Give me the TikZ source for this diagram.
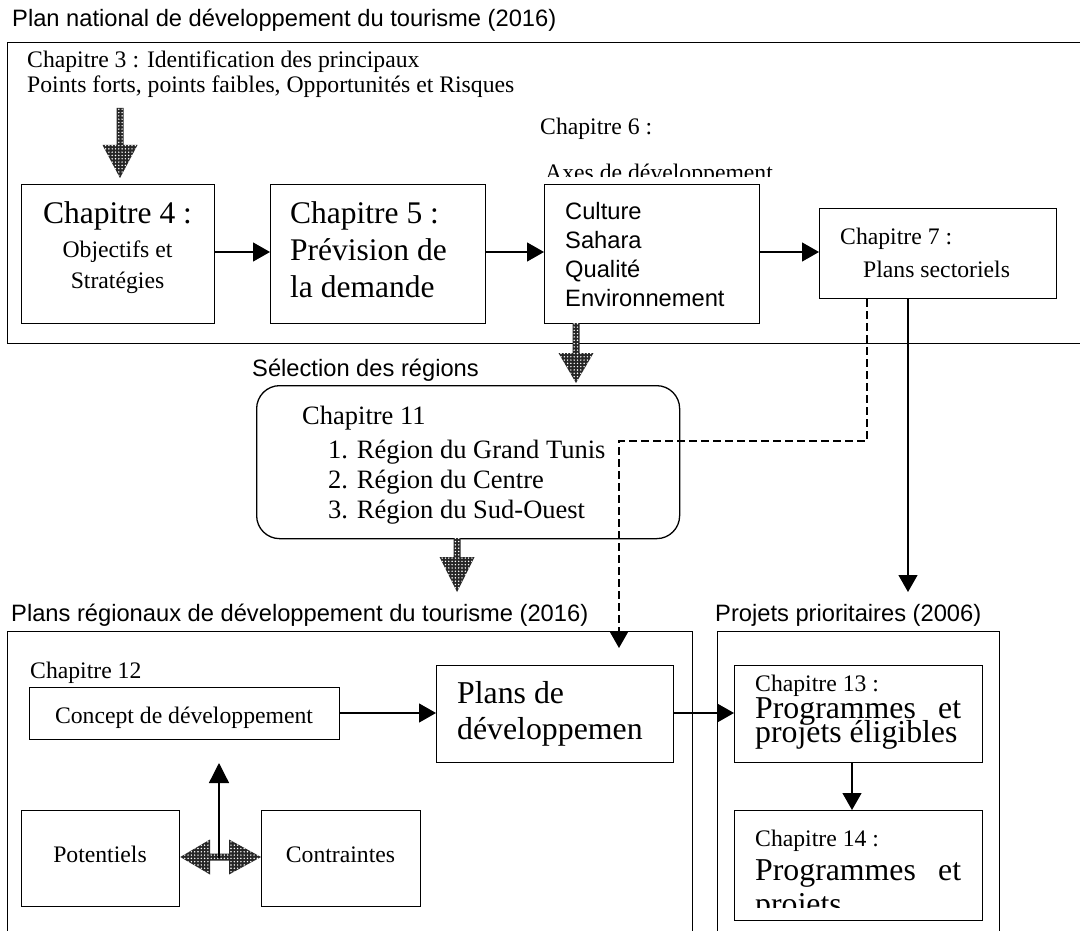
\documentclass[tikz,border=0pt]{standalone}
\usepackage{fontspec}
\setmainfont{Liberation Serif}
\newfontfamily\arialf{Liberation Sans}
\usetikzlibrary{arrows.meta,patterns.meta}
\newcommand\fsS{\fontsize{23.7pt}{28pt}\selectfont}
\newcommand\fsL{\fontsize{31.8pt}{36pt}\selectfont}
\newcommand\fsM{\fontsize{26.5pt}{31pt}\selectfont}
\newcommand\fsH{\arialf\fontsize{23.7pt}{28pt}\selectfont}
\newcommand\hatchdown[4]{\path[hatch] ({#1-3.5},#2) -- ({#1+3.5},#2) -- ({#1+3.5},#3) -- ({#1+17.5},#3) -- (#1,#4) -- ({#1-17.5},#3) -- ({#1-3.5},#3) -- cycle;}
\begin{document}
\begin{tikzpicture}[x=1pt,y=-1pt,
  box/.style={draw,line width=1.3pt,inner sep=0pt,anchor=north west},
  txt/.style={anchor=base west,inner sep=0pt,font=\fsS},
  ctxt/.style={anchor=base,inner sep=0pt,font=\fsS},
  arr/.style={line width=1.3pt,-{Triangle[length=17pt,width=19pt]}},
  dashline/.style={line width=1.3pt,dash pattern=on 8pt off 4pt},
  hatch/.style={fill=black!85,postaction={pattern={Dots[distance=3.3pt,radius=0.8pt]},pattern color=white}}
]
\useasboundingbox (0,0) rectangle (1080,931);
\clip (0,0) rectangle (1080,931);
\fill[white] (0,0) rectangle (1080,931);

% ---------- national plan ----------
\node[txt,font=\fsH] (t1) at (12,27) {Plan national de développement du tourisme (2016)};
\node[box,minimum width=1110pt,minimum height=301pt] (nat) at (7,42) {};
\node[txt] (c3a) at (27,68) {Chapitre 3 : Identification des principaux};
\node[txt] (c3b) at (27,93) {Points forts, points faibles, Opportunités et Risques};
\hatchdown{120}{108}{145}{178}

\node[box,minimum width=193pt,minimum height=139pt] (ch4) at (21,184) {};
\node[ctxt,font=\fontsize{31.5pt}{36pt}\selectfont] (c4a) at (117.5,223) {Chapitre 4 :};
\node[ctxt] (c4b) at (117.5,258) {Objectifs et};
\node[ctxt] (c4c) at (117.5,288) {Stratégies};

\node[box,minimum width=215pt,minimum height=139pt] (ch5) at (270,184) {};
\node[txt,font=\fontsize{31.5pt}{36pt}\selectfont] (c5a) at (290,223) {Chapitre 5 :};
\node[txt,font=\fontsize{31.5pt}{36pt}\selectfont] (c5b) at (290,261) {Prévision de};
\node[txt,font=\fontsize{31.5pt}{36pt}\selectfont] (c5c) at (290,298) {la demande};

\node[txt] (c6a) at (540,135) {Chapitre 6 :};
\begin{scope}
\clip (530,150) rectangle (800,177);
\node[txt] (c6b) at (545,181) {Axes de développement};
\end{scope}

\node[box,minimum width=215pt,minimum height=139pt] (cult) at (544,184) {};
\node[txt,font=\fsH] (k1) at (565,219) {Culture};
\node[txt,font=\fsH] (k2) at (565,248) {Sahara};
\node[txt,font=\fsH] (k3) at (565,277) {Qualité};
\node[txt,font=\fsH] (k4) at (565,306) {Environnement};

\node[box,minimum width=237pt,minimum height=90pt] (ch7) at (819,208) {};
\node[txt] (c7a) at (840,244) {Chapitre 7 :};
\node[txt] (c7b) at (863,277) {Plans sectoriels};

\draw[arr] (ch4.east |- 0,252) -- (ch5.west |- 0,252);
\draw[arr] (ch5.east |- 0,252) -- (cult.west |- 0,252);
\draw[arr] (cult.east |- 0,252) -- (ch7.west |- 0,252);

% ---------- selection ----------
\node[txt,font=\fsH] (sel) at (252,376) {Sélection des régions};
\hatchdown{576}{323}{353}{383}
\node[box,rounded corners=23pt,minimum width=423pt,minimum height=153pt] (ch11) at (256,385) {};
\node[txt,font=\fsM] (c11a) at (302,424) {Chapitre 11};
\node[txt,font=\fsM] (c11b) at (328,458) {1. Région du Grand Tunis};
\node[txt,font=\fsM] (c11c) at (328,488) {2. Région du Centre};
\node[txt,font=\fsM] (c11d) at (328,518) {3. Région du Sud-Ouest};
\hatchdown{457}{538}{557}{592}

% ---------- regional plans ----------
\node[txt,font=\fsH] (t2) at (11,621) {Plans régionaux de développement du tourisme (2016)};
\node[box,minimum width=685pt,minimum height=330pt] (reg) at (7,631) {};
\node[txt,font=\fsH] (t3) at (715,621) {Projets prioritaires (2006)};
\node[box,minimum width=282pt,minimum height=330pt] (prio) at (717,631) {};

\node[txt] (c12) at (30,678) {Chapitre 12};
\node[box,minimum width=310pt,minimum height=52pt] (conc) at (29,687) {};
\node[ctxt] (conct) at (184,723) {Concept de développement};

\node[box,minimum width=237pt,minimum height=97pt] (plans) at (436,665) {};
\node[txt,font=\fsL] (pl1) at (457,703) {Plans de};
\node[txt,font=\fsL] (pl2) at (457,739) {développemen};

\node[box,minimum width=158pt,minimum height=96pt] (pot) at (21,810) {};
\node[ctxt] (pott) at (100,862) {Potentiels};
\node[box,minimum width=159pt,minimum height=96pt] (con) at (261,810) {};
\node[ctxt] (cont) at (340.5,862) {Contraintes};

\path[hatch] (pot.east |- 0,857) -- (210,839.5) -- (210,853.5) -- (229,853.5) -- (229,839.5)
  -- (con.west |- 0,857) -- (229,874.5) -- (229,860.5) -- (210,860.5) -- (210,874.5) -- cycle;
\coordinate (vb) at (219,858);
\coordinate (vt) at (219,763);
\draw[line width=1.3pt,-{Triangle[length=20pt,width=20pt]}] (vb) -- (vt);

\draw[arr] (conc.east |- 0,713) -- (plans.west |- 0,713);

% ---------- priority projects ----------
\node[box,minimum width=248pt,minimum height=97pt] (ch13) at (734,665) {};
\node[txt] (c13a) at (755,691) {Chapitre 13 :};
\node[txt,font=\fsL] (c13b) at (755,718) {\makebox[206pt][l]{Programmes\hfill et}};
\node[txt,font=\fsL] (c13c) at (755,742) {projets éligibles};

\node[box,minimum width=248pt,minimum height=110pt] (ch14) at (734,810) {};
\node[txt] (c14a) at (755,846) {Chapitre 14 :};
\node[txt,font=\fsL] (c14b) at (755,880) {\makebox[206pt][l]{Programmes\hfill et}};
\begin{scope}
\clip (740,880) rectangle (980,907);
\node[txt,font=\fsL] (c14c) at (755,914) {projets};
\end{scope}

\draw[arr] (plans.east |- 0,713) -- (ch13.west |- 0,713);
\draw[arr] (ch13.south -| 852,0) -- (ch14.north -| 852,0);

% ---------- links from chapter 7 ----------
\coordinate (d1) at (867,441);
\coordinate (d2) at (619,441);
\coordinate (d3) at (619,648);
\draw[dashline,arr] (ch7.south -| d1) -- (d1) -- (d2) -- (d3);
\coordinate (s1) at (908,592);
\draw[arr] (ch7.south -| s1) -- (s1);
\end{tikzpicture}
\end{document}
